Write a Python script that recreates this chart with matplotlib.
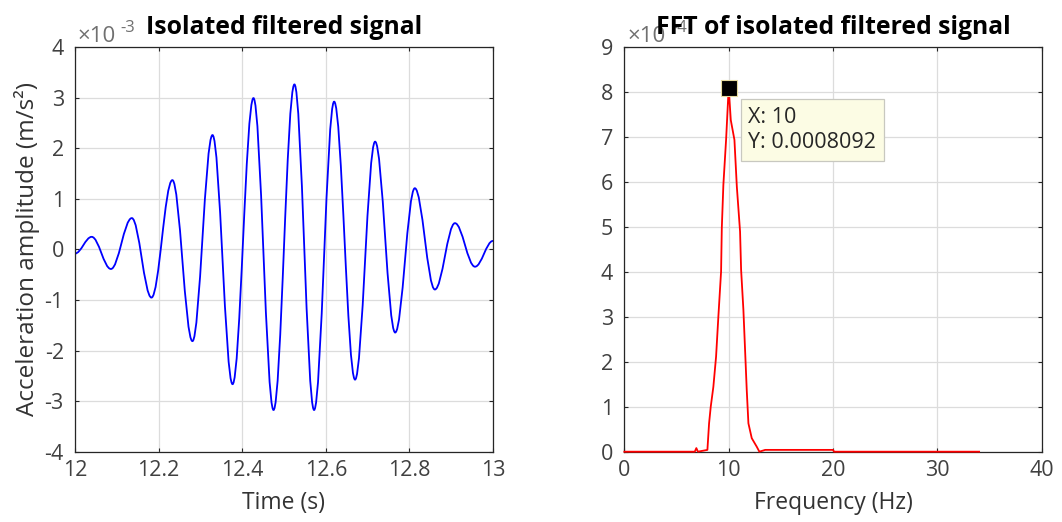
import numpy as np
import matplotlib
matplotlib.use("Agg")
import matplotlib.pyplot as plt
from matplotlib.path import Path
from matplotlib.patches import PathPatch

plt.rcParams['font.family'] = ['Open Sans', 'DejaVu Sans']
plt.rcParams['axes.unicode_minus'] = False

# extrema of the isolated signal (time in s, amplitude in 1e-3 m/s^2)
t_ext = [12.0, 12.040, 12.086, 12.136, 12.183, 12.233, 12.281, 12.329, 12.377,
         12.427, 12.475, 12.525, 12.572, 12.620, 12.670, 12.718, 12.766,
         12.813, 12.861, 12.909, 12.957, 13.0]
a_ext = [-0.08, 0.25, -0.385, 0.62, -0.95, 1.37, -1.81, 2.26, -2.66,
         2.99, -3.17, 3.26, -3.17, 2.92, -2.57, 2.13, -1.64,
         1.21, -0.79, 0.52, -0.34, 0.17]

# spectrum (freq in Hz, amplitude in 1e-4)
freq = [0, 6.75, 6.9, 7.05, 7.96, 8.12, 8.28, 8.53, 8.79, 9.01, 9.27, 9.34,
        9.49, 9.75, 10.0, 10.2, 10.55, 10.78, 11.09, 11.19, 11.41, 11.57,
        11.73, 11.89, 12.21, 12.69, 12.94, 13.5, 20.0, 20.1, 34.0]
fft_amp = [0, 0, 0.08, 0, 0.04, 0.63, 1.0, 1.44, 2.11, 3.0, 4.0, 4.97,
           5.93, 6.93, 8.092, 7.37, 6.93, 5.89, 4.89, 4.04, 3.15, 2.26,
           1.37, 0.63, 0.3, 0.11, 0.0, 0.04, 0.04, 0.0, 0.0]
tip_x, tip_y = 10, 8.092

dark = '#262626'
fig = plt.figure(figsize=(10.62, 5.22), dpi=100)
ax1 = fig.add_axes([0.0706, 0.1341, 0.3936, 0.7759])
ax2 = fig.add_axes([0.5879, 0.1347, 0.3930, 0.7759])

for ax in (ax1, ax2):
    ax.grid(True, color='#dcdcdc', lw=0.9)
    ax.set_axisbelow(True)
    ax.tick_params(direction='in', length=3, width=0.8, color=dark,
                   labelcolor='#404040', labelsize=15.5, top=True, right=True)
    ax.tick_params(axis='y', pad=8)
    ax.tick_params(axis='x', pad=6)
    for s in ax.spines.values():
        s.set_color(dark)
        s.set_linewidth(0.9)

# left: wave packet drawn as cubic bezier between extrema
k = 0.364
verts = [(t_ext[0], a_ext[0])]
codes = [Path.MOVETO]
for i in range(len(t_ext) - 1):
    dt = t_ext[i + 1] - t_ext[i]
    verts += [(t_ext[i] + k * dt, a_ext[i]), (t_ext[i + 1] - k * dt, a_ext[i + 1]),
              (t_ext[i + 1], a_ext[i + 1])]
    codes += [Path.CURVE4] * 3
ax1.add_patch(PathPatch(Path(verts, codes), fill=False, ec='#0000ff', lw=1.3))
ax1.set_xlim(12, 13)
ax1.set_ylim(-4, 4)
ax1.set_xticks([12, 12.2, 12.4, 12.6, 12.8, 13])
ax1.set_xticklabels(['12', '12.2', '12.4', '12.6', '12.8', '13'])
ax1.set_yticks(range(-4, 5))
ax1.set_xlabel('Time (s)', fontsize=16.5, color='#333333', labelpad=7)
ax1.set_ylabel('Acceleration amplitude (m/s²)', fontsize=17.5, color='#333333', labelpad=3)
ax1.set_title('Isolated filtered signal', fontsize=17.8, fontweight='bold', pad=9)
ax1.text(0.007, 1.012, '×10', transform=ax1.transAxes, fontsize=16, color='#707070')
ax1.text(0.108, 1.036, '-3', transform=ax1.transAxes, fontsize=12, color='#707070')

# right: spectrum
ax2.text(0.007, 1.012, '×10', transform=ax2.transAxes, fontsize=16, color='#707070')
ax2.text(0.115, 1.036, '-4', transform=ax2.transAxes, fontsize=12, color='#707070')
ax2.plot(freq, fft_amp, color='#ff0000', lw=1.3, zorder=3, clip_on=False)
ax2.plot([tip_x], [tip_y], 's', ms=11.5, mfc='black', mec='#e6dca0', mew=0.8, zorder=4)
ax2.text(11.89, 7.67, 'X: 10\nY: 0.0008092', fontsize=15.5, color='#262626',
         va='top', ha='left', linespacing=1.3, zorder=5,
         bbox=dict(boxstyle='square,pad=0.35', fc='#fcfce4', ec='#c8c8c0', lw=0.9))
ax2.set_xlim(0, 40)
ax2.set_ylim(0, 9)
ax2.set_xticks([0, 10, 20, 30, 40])
ax2.set_yticks(range(0, 10))
ax2.set_xlabel('Frequency (Hz)', fontsize=16.5, color='#333333', labelpad=7)
ax2.set_title('FFT of isolated filtered signal', fontsize=17.8, fontweight='bold', pad=9, zorder=6)

fig.savefig('out.png', dpi=100)
